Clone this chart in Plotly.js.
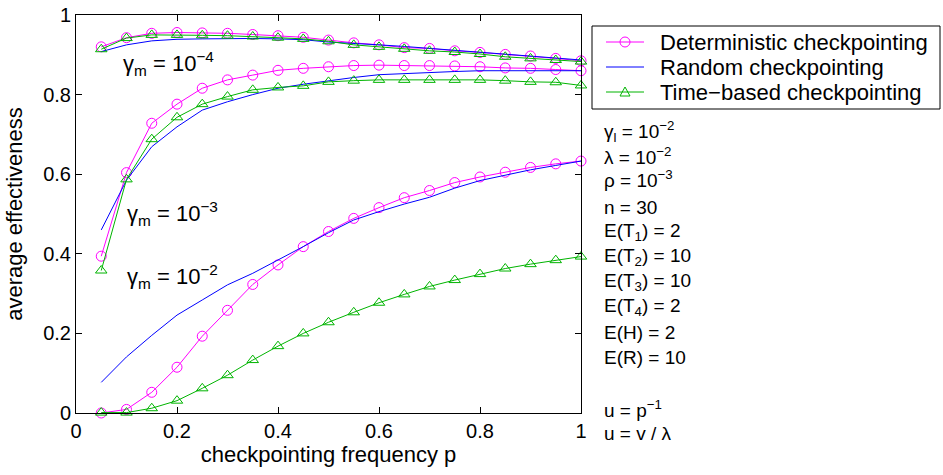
<!DOCTYPE html>
<html>
<head>
<meta charset="utf-8">
<script src="https://cdn.plot.ly/plotly-3.0.1.min.js"></script>
<style>html,body{margin:0;padding:0;background:#fff;}#chart{width:943px;height:475px;}</style>
</head>
<body>
<div id="chart"></div>
<script>
// checkpointing frequency p
const p = [0.05,0.10,0.15,0.20,0.25,0.30,0.35,0.40,0.45,0.50,0.55,0.60,0.65,0.70,0.75,0.80,0.85,0.90,0.95,1.00];

// gamma_m = 1e-4
const det4  = [0.920,0.943,0.954,0.956,0.955,0.954,0.951,0.948,0.944,0.937,0.930,0.925,0.918,0.916,0.910,0.906,0.901,0.897,0.891,0.885];
const rand4 = [0.908,0.925,0.935,0.939,0.940,0.941,0.941,0.940,0.938,0.932,0.929,0.925,0.921,0.916,0.911,0.906,0.901,0.896,0.891,0.887];
const time4 = [0.914,0.942,0.950,0.950,0.949,0.948,0.946,0.943,0.940,0.934,0.925,0.920,0.915,0.910,0.907,0.902,0.895,0.891,0.887,0.883];

// gamma_m = 1e-3
const det3  = [0.394,0.604,0.728,0.776,0.816,0.837,0.849,0.861,0.866,0.870,0.873,0.874,0.873,0.873,0.872,0.870,0.867,0.866,0.863,0.860];
const rand3 = [0.460,0.585,0.669,0.719,0.761,0.782,0.800,0.816,0.826,0.835,0.843,0.850,0.853,0.856,0.858,0.860,0.860,0.861,0.861,0.860];
const time3 = [0.358,0.587,0.688,0.743,0.776,0.795,0.812,0.818,0.822,0.832,0.835,0.837,0.837,0.837,0.837,0.837,0.835,0.832,0.831,0.823];

// gamma_m = 1e-2
const det2  = [0.000,0.009,0.052,0.115,0.193,0.258,0.323,0.372,0.418,0.456,0.489,0.516,0.541,0.559,0.579,0.593,0.605,0.617,0.626,0.633];
const rand2 = [0.077,0.141,0.195,0.246,0.284,0.322,0.351,0.384,0.418,0.453,0.485,0.506,0.525,0.542,0.565,0.584,0.598,0.611,0.622,0.633];
const time2 = [0.001,0.001,0.012,0.031,0.062,0.095,0.133,0.168,0.200,0.228,0.253,0.277,0.298,0.318,0.334,0.349,0.363,0.374,0.384,0.393];

const seriesNames = ["Deterministic checkpointing","Random checkpointing","Time\u2212based checkpointing"];
const gammaLabels = ["\u03b3<sub>m</sub> = 10<sup>\u22124</sup>","\u03b3<sub>m</sub> = 10<sup>\u22123</sup>","\u03b3<sub>m</sub> = 10<sup>\u22122</sup>"];
const paramLabels = ["\u03b3<sub>l</sub> = 10<sup>\u22122</sup>","\u03bb = 10<sup>\u22122</sup>","\u03c1 = 10<sup>\u22123</sup>","n = 30",
  "E(T<sub>1</sub>) = 2","E(T<sub>2</sub>) = 10","E(T<sub>3</sub>) = 10","E(T<sub>4</sub>) = 2","E(H) = 2","E(R) = 10"];
const uLabels = ["u = p<sup>\u22121</sup>","u = v / \u03bb"];

const MAG = "#ff00ff", BLUE = "#0000ff", GREEN = "#00b400";
const COLORS = [MAG, BLUE, GREEN];
const FONT = "Liberation Sans, Arial, Helvetica, sans-serif";

// pixel helpers for paper-anchored decorations (plot area: x 76..581, y 15..413)
const PX = px => (px - 76) / 505;
const PY = py => (413 - py) / 398;

function detTrace(y){ return {x:p, y:y, type:"scatter", mode:"lines+markers", name:seriesNames[0], showlegend:false,
  line:{color:MAG,width:1}, marker:{symbol:"circle-open",size:10,color:MAG,line:{width:1}}, cliponaxis:false}; }
function randTrace(y){ return {x:p, y:y, type:"scatter", mode:"lines", name:seriesNames[1], showlegend:false,
  line:{color:BLUE,width:1}, cliponaxis:false}; }
function timeTrace(y){ return {x:p, y:y, type:"scatter", mode:"lines+markers", name:seriesNames[2], showlegend:false,
  line:{color:GREEN,width:1}, marker:{symbol:"triangle-up-open",size:10,color:GREEN,line:{width:1}}, cliponaxis:false}; }

const data = [
  detTrace(det4), randTrace(rand4), timeTrace(time4),
  detTrace(det3), randTrace(rand3), timeTrace(time3),
  detTrace(det2), randTrace(rand2), timeTrace(time2)
];

const annotations = [];
const shapes = [];
const gammaPos = [[0.090,0.878],[0.097,0.502],[0.097,0.344]];
gammaLabels.forEach((t,i)=>annotations.push({text:t, xref:"x", yref:"y", x:gammaPos[i][0], y:gammaPos[i][1],
  xanchor:"left", yanchor:"middle", showarrow:false, font:{family:FONT,size:22,color:"#000"}}));
const paramY = [131,156,179,207,232,257,282,307,332,357];
paramLabels.forEach((t,i)=>annotations.push({text:t, xref:"paper", yref:"paper", x:PX(602), y:PY(paramY[i]),
  xanchor:"left", yanchor:"middle", showarrow:false, font:{family:FONT,size:19,color:"#000"}}));
const uY = [409,433];
uLabels.forEach((t,i)=>annotations.push({text:t, xref:"paper", yref:"paper", x:PX(602), y:PY(uY[i]),
  xanchor:"left", yanchor:"middle", showarrow:false, font:{family:FONT,size:19,color:"#000"}}));

// legend box (drawn like the MATLAB legend)
shapes.push({type:"rect", xref:"paper", yref:"paper", x0:PX(592), x1:PX(940), y0:PY(26), y1:PY(109),
  line:{color:"#000",width:1}, fillcolor:"#fff", layer:"above"});
const rowY = [42, 67, 92];
seriesNames.forEach((name,i)=>{
  shapes.push({type:"line", xref:"paper", yref:"paper", x0:PX(606), x1:PX(644), y0:PY(rowY[i]), y1:PY(rowY[i]),
    line:{color:COLORS[i],width:1}, layer:"above"});
  annotations.push({text:name, xref:"paper", yref:"paper", x:PX(658), y:PY(rowY[i]), xanchor:"left", yanchor:"middle",
    showarrow:false, font:{family:FONT,size:22,color:"#000"}});
});
shapes.push({type:"circle", xref:"paper", yref:"paper", x0:PX(620), x1:PX(630), y0:PY(rowY[0]-5), y1:PY(rowY[0]+5),
  line:{color:MAG,width:1}, fillcolor:"rgba(0,0,0,0)", layer:"above"});
{
  const cx = 625, cy = rowY[2];
  const path = "M"+PX(cx-5)+","+PY(cy+4)+" L"+PX(cx+5)+","+PY(cy+4)+" L"+PX(cx)+","+PY(cy-5)+" Z";
  shapes.push({type:"path", xref:"paper", yref:"paper", path:path, line:{color:GREEN,width:1}, fillcolor:"rgba(0,0,0,0)", layer:"above"});
}

const layout = {
  width:943, height:475,
  margin:{l:76, r:362, t:15, b:62},
  paper_bgcolor:"#fff", plot_bgcolor:"#fff",
  font:{family:FONT, size:22, color:"#000"},
  xaxis:{range:[0,1], tickvals:[0,0.2,0.4,0.6,0.8,1], ticktext:["0","0.2","0.4","0.6","0.8","1"],
    ticks:"inside", ticklen:6, tickcolor:"#000", showline:true, linecolor:"#000", linewidth:1, mirror:"ticks",
    showgrid:false, zeroline:false, tickfont:{size:20},
    title:{text:"checkpointing frequency p", font:{size:22}, standoff:3}},
  yaxis:{range:[0,1], tickvals:[0,0.2,0.4,0.6,0.8,1], ticktext:["0","0.2","0.4","0.6","0.8","1"],
    ticks:"inside", ticklen:6, tickcolor:"#000", showline:true, linecolor:"#000", linewidth:1, mirror:"ticks",
    showgrid:false, zeroline:false, tickfont:{size:20},
    title:{text:"average effectiveness", font:{size:22}, standoff:14}},
  showlegend:false,
  shapes:shapes,
  annotations:annotations
};

Plotly.newPlot("chart", data, layout, {displayModeBar:false, staticPlot:true});
</script>
</body>
</html>
